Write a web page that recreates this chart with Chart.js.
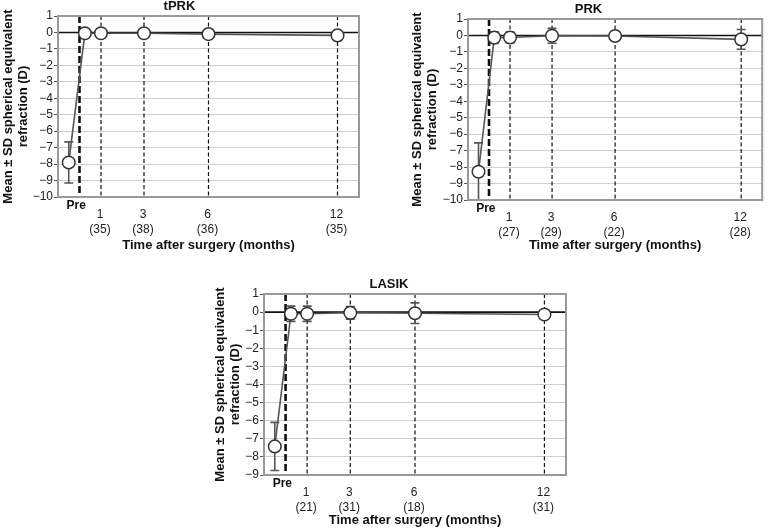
<!DOCTYPE html>
<html>
<head>
<meta charset="utf-8">
<script src="https://cdn.jsdelivr.net/npm/chart.js@4"></script>
<style>
  html, body { margin: 0; padding: 0; background: #fff; }
  body { width: 770px; height: 528px; position: relative; overflow: hidden; }
  .panel { position: absolute; }
</style>
</head>
<body>
<div class="panel" style="left:0;top:0;width:385px;height:256px"><canvas id="tprk"></canvas></div>
<div class="panel" style="left:409px;top:3px;width:361px;height:253px"><canvas id="prk"></canvas></div>
<div class="panel" style="left:212px;top:278px;width:375px;height:250px"><canvas id="lasik"></canvas></div>
<script>
// time points in months: pre-op, first post-op visit, 1, 3, 6, 12
const months = [-0.5, 0.25, 1, 3, 6, 12];
const tickMonths = [1, 3, 6, 12];

const tprkMean = [-7.9, -0.05, -0.05, -0.05, -0.1, -0.18];
const tprkSD = [1.25, 0.12, 0.1, 0.1, 0.12, 0.3];
const tprkN = [35, 38, 36, 35];

const prkMean = [-8.28, -0.13, -0.12, -0.02, -0.03, -0.24];
const prkSD = [1.75, 0.35, 0.32, 0.45, 0.25, 0.6];
const prkN = [27, 29, 22, 28];

const lasikMean = [-7.42, -0.09, -0.09, -0.04, -0.06, -0.13];
const lasikSD = [1.33, 0.42, 0.42, 0.35, 0.57, 0.15];
const lasikN = [21, 31, 18, 31];

const FONT = "'Liberation Sans', Arial, sans-serif";

const refLines = {
    id: "refLines",
    beforeDatasetsDraw(chart, args, opts) {
        const { ctx, chartArea: a, scales: { x, y } } = chart;
        ctx.save();
        ctx.beginPath();
        ctx.rect(a.left, a.top, a.right - a.left, a.bottom - a.top);
        ctx.clip();

        // zero line
        const y0 = y.getPixelForValue(0);
        ctx.strokeStyle = "#111";
        ctx.lineWidth = 1.6;
        ctx.beginPath();
        ctx.moveTo(a.left, y0);
        ctx.lineTo(a.right, y0);
        ctx.stroke();

        // surgery line
        ctx.setLineDash([7, 3]);
        ctx.lineWidth = 2.6;
        const xs = x.getPixelForValue(0);
        ctx.beginPath();
        ctx.moveTo(xs, a.top);
        ctx.lineTo(xs, a.bottom);
        ctx.stroke();

        // follow-up lines
        ctx.setLineDash([4, 2.5]);
        ctx.lineWidth = 1.2;
        tickMonths.forEach(m => {
            const px = x.getPixelForValue(m);
            ctx.beginPath();
            ctx.moveTo(px, a.top);
            ctx.lineTo(px, a.bottom);
            ctx.stroke();
        });
        ctx.setLineDash([]);

        // error bars
        const mean = opts.mean, sd = opts.sd;
        ctx.strokeStyle = "#555";
        ctx.lineWidth = 1.6;
        months.forEach((m, i) => {
            const px = x.getPixelForValue(m);
            const top = y.getPixelForValue(mean[i] + sd[i]);
            const bot = y.getPixelForValue(mean[i] - sd[i]);
            ctx.beginPath();
            ctx.moveTo(px, top); ctx.lineTo(px, bot);
            ctx.moveTo(px - 4.5, top); ctx.lineTo(px + 4.5, top);
            ctx.moveTo(px - 4.5, bot); ctx.lineTo(px + 4.5, bot);
            ctx.stroke();
        });
        ctx.restore();

        // plot frame
        ctx.save();
        ctx.strokeStyle = "#999";
        ctx.lineWidth = 2;
        ctx.strokeRect(a.left, a.top, a.right - a.left, a.bottom - a.top);
        ctx.restore();
    },
    afterDraw(chart, args, opts) {
        const { ctx, chartArea: a, scales: { x } } = chart;
        ctx.save();
        ctx.fillStyle = "#111";
        ctx.textAlign = "center";
        ctx.textBaseline = "middle";
        ctx.font = "bold 12px " + FONT;
        ctx.fillText("Pre", x.getPixelForValue(-0.15), a.bottom + 8.5);
        ctx.font = "12px " + FONT;
        ctx.fillStyle = "#222";
        tickMonths.forEach((m, i) => {
            const px = x.getPixelForValue(m);
            ctx.fillText(String(m), px - 1, a.bottom + 17.5);
            ctx.fillText("(" + opts.n[i] + ")", px - 1, a.bottom + 32.5);
        });
        ctx.restore();
    }
};

function drawPanel(id, title, mean, sd, n, yMin, yWidth, xHeight, padRight, xTitlePad) {
    new Chart(document.getElementById(id), {
        type: "line",
        data: {
            datasets: [{
                data: months.map((m, i) => ({ x: m, y: mean[i] })),
                borderColor: "#555",
                borderWidth: 1.6,
                tension: 0,
                pointRadius: 6.3,
                pointBackgroundColor: "#fff",
                pointBorderColor: "#333",
                pointBorderWidth: 1.5
            }]
        },
        options: {
            responsive: true,
            maintainAspectRatio: false,
            animation: false,
            layout: { padding: { left: 0, right: padRight, top: 0, bottom: 0 } },
            plugins: {
                legend: { display: false },
                tooltip: { enabled: false },
                title: {
                    display: true,
                    text: title,
                    color: "#111",
                    font: { family: FONT, size: 13, weight: "bold", lineHeight: 1 },
                    padding: { top: 0, bottom: 3 }
                },
                refLines: { mean: mean, sd: sd, n: n }
            },
            scales: {
                x: {
                    type: "linear",
                    min: -1,
                    max: 13,
                    grid: { display: false },
                    border: { display: false },
                    ticks: { display: false },
                    title: {
                        display: true,
                        text: "Time after surgery (months)",
                        color: "#111",
                        font: { family: FONT, size: 13, weight: "bold", lineHeight: 1.2 },
                        padding: { top: 0, bottom: xTitlePad }
                    },
                    afterFit: s => { s.height = xHeight; }
                },
                y: {
                    min: yMin,
                    max: 1,
                    ticks: {
                        stepSize: 1,
                        autoSkip: false,
                        color: "#222",
                        padding: 1,
                        font: { family: FONT, size: 12 },
                        callback: v => String(v).replace("-", "\u2212")
                    },
                    grid: {
                        color: "#cfcfcf",
                        lineWidth: 1,
                        tickLength: 4,
                        tickColor: "#555"
                    },
                    border: { display: false },
                    title: {
                        display: true,
                        text: ["Mean \u00b1 SD spherical equivalent", "refraction (D)"],
                        color: "#111",
                        font: { family: FONT, size: 13, weight: "bold", lineHeight: 1.15 },
                        padding: { top: 1, bottom: 0 }
                    },
                    afterFit: s => { s.width = yWidth; }
                }
            }
        },
        plugins: [refLines]
    });
}

drawPanel("tprk", "tPRK", tprkMean, tprkSD, tprkN, -10, 58, 59, 26, 3);
drawPanel("prk", "PRK", prkMean, prkSD, prkN, -10, 59, 56, 2, 3);
drawPanel("lasik", "LASIK", lasikMean, lasikSD, lasikN, -9, 52, 53, 21, 0);
</script>
</body>
</html>
